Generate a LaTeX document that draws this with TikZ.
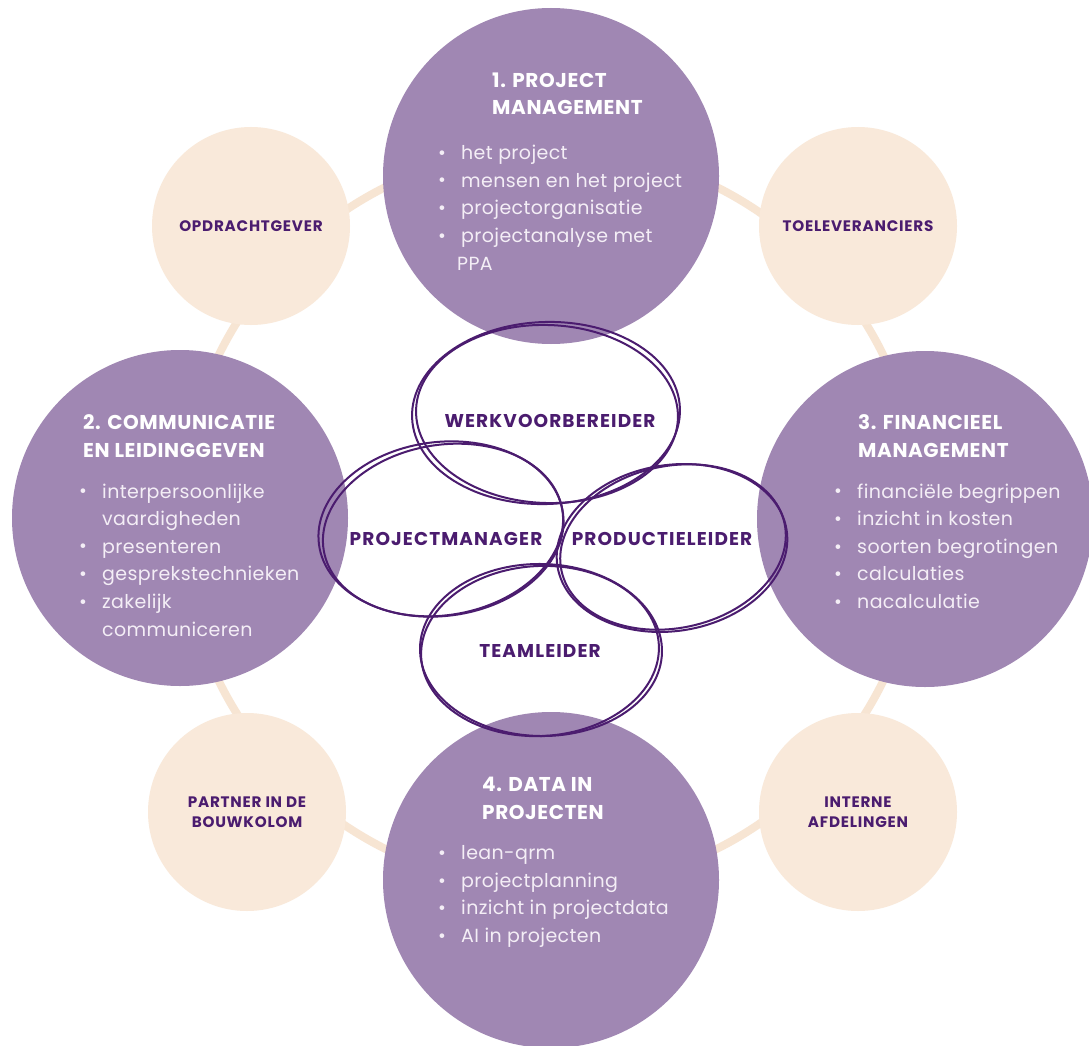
\documentclass[tikz,border=0pt]{standalone}
\usepackage{fontspec}
\setmainfont{Poppins}
\newfontfamily\fhead[LetterSpace=3]{Poppins}
\newfontfamily\frole[LetterSpace=6]{Poppins}
\newfontfamily\fside[LetterSpace=5]{Poppins}
\newfontfamily\fitem[LetterSpace=2]{Poppins}
\usepackage{graphicx}
\definecolor{lilac}{HTML}{A087B3}
\definecolor{cream}{HTML}{F9E9DA}
\definecolor{ringc}{HTML}{F7E5D3}
\definecolor{deep}{HTML}{4B1C6F}
\definecolor{lite}{HTML}{F4EEF6}
\newcommand\bul{\makebox[23.5pt][l]{\hspace{0.5pt}\raisebox{0.3pt}{\scalebox{1.0}{\textbullet}}}}
\begin{document}
\begin{tikzpicture}[x=1pt,y=-1pt,
  bigc/.style={circle,fill=lilac,minimum size=336pt,inner sep=0pt},
  smallc/.style={circle,fill=cream,minimum size=198pt,inner sep=0pt},
  ell/.style={draw=deep,line width=2pt},
  head/.style={anchor=base west,inner sep=0pt,text=white,align=left,font=\fhead\bfseries\fontsize{20}{28}\selectfont},
  items/.style={anchor=base west,inner sep=0pt,text=lite,align=left,font=\fitem\fontsize{19}{27.6}\selectfont},
  role/.style={inner sep=0pt,text=deep,font=\frole\bfseries\fontsize{18.5}{20}\selectfont},
  side/.style={inner sep=0pt,text=deep,align=center,font=\fside\bfseries\fontsize{15.2}{20}\selectfont}]
\useasboundingbox (0,0) rectangle (1089,1046);
\fill[white] (0,0) rectangle (1089,1046);
\coordinate (mid) at (551,518);
\draw[ringc,line width=8pt] (mid) circle[radius=370];
% small circles
\node[smallc] (s1) at (251,226) {};
\node[smallc] (s2) at (858,226) {};
\node[smallc] (s3) at (247,812) {};
\node[smallc] (s4) at (858,812) {};
% big circles
\node[bigc] (c1) at (551,176) {};
\node[bigc] (c2) at (180,518) {};
\node[bigc] (c3) at (925,519) {};
\node[bigc] (c4) at (551,880) {};
% hand drawn ellipses
\draw[ell,rotate around={2:(546,413)}] (546,413) ellipse[x radius=134,y radius=91];
\draw[ell,rotate around={-2:(547,414)}] (547,414) ellipse[x radius=131,y radius=89];
\draw[ell,rotate around={7:(441,529)}] (441,529) ellipse[x radius=123,y radius=87];
\draw[ell,rotate around={10:(443,530)}] (443,530) ellipse[x radius=121,y radius=85];
\draw[ell,rotate around={9:(672,548)}] (672,548) ellipse[x radius=116,y radius=83];
\draw[ell,rotate around={12:(673,547)}] (673,547) ellipse[x radius=114,y radius=81];
\draw[ell,rotate around={-1:(541,650)}] (541,650) ellipse[x radius=121,y radius=86];
\draw[ell,rotate around={3:(540,651)}] (540,651) ellipse[x radius=119,y radius=85];
% role labels
\node[role] (r1) at (550,421) {WERKVOORBEREIDER};
\node[role] (r2) at (446,539) {PROJECTMANAGER};
\node[role] (r3) at (662,539) {PRODUCTIELEIDER};
\node[role] (r4) at (540,651) {TEAMLEIDER};
% side labels
\node[side] (t1) at (s1) {OPDRACHTGEVER};
\node[side] (t2) at (s2) {TOELEVERANCIERS};
\node[side] (t3) at (s3) {PARTNER IN DE\\BOUWKOLOM};
\node[side] (t4) at (s4) {INTERNE\\AFDELINGEN};
% headings (base anchor = last line)
\node[head] (h1) at (492,115) {1. PROJECT\\MANAGEMENT};
\node[head] (h2) at (83,457) {2. COMMUNICATIE\\EN LEIDINGGEVEN};
\node[head] (h3) at (858,457) {3. FINANCIEEL\\MANAGEMENT};
\node[head] (h4) at (482,819) {4. DATA IN\\PROJECTEN};
% lists (base anchor = last line)
\node[items] (l1) at (437.5,270) {\bul het project\\\bul mensen en het project\\\bul projectorganisatie\\\bul projectanalyse met\\\hspace*{19.5pt}PPA};
\node[items] (l2) at (78.5,636) {\bul interpersoonlijke\\\hspace*{23.5pt}vaardigheden\\\bul presenteren\\\bul gesprekstechnieken\\\bul zakelijk\\\hspace*{23.5pt}communiceren};
\node[items] (l3) at (833.5,608.5) {\bul financiële begrippen\\\bul inzicht in kosten\\\bul soorten begrotingen\\\bul calculaties\\\bul nacalculatie};
\node[items] (l4) at (437.5,942.5) {\bul lean-qrm\\\bul projectplanning\\\bul inzicht in projectdata\\\bul AI in projecten};
\end{tikzpicture}
\end{document}
